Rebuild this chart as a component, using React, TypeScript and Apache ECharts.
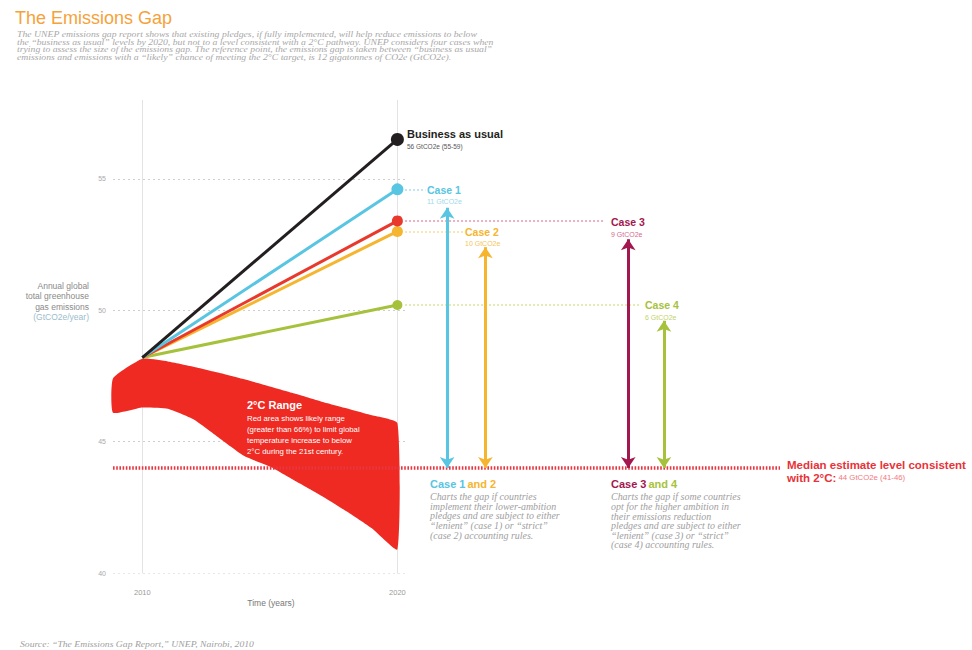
import React, { useEffect, useRef } from "react";
import * as echarts from "echarts";

// ---- data ----
const xMin = 2008.85;
const xMax = 2035;
const yMin = 40;
const yMax = 58;
const yTicks = [40, 45, 50, 55];
const xTicks = [2010, 2020];

const startYear = 2010;
const startValue = 48.2;
const endYear = 2020;
const pathwayNames = ["Case 4", "Case 2", "Case 3", "Case 1", "Business as usual"];
const pathwayValues = [50.2, 53.0, 53.4, 54.6, 56.5];
const pathwayColors = ["#a6c23c", "#f6b52e", "#e8392c", "#58c5e2", "#231f20"];
const pathwayDot = [10, 11, 11, 12, 13];

const bandYears = [2008.85, 2010, 2011, 2012, 2013, 2014, 2015, 2016, 2017, 2018, 2019, 2020];
const bandUpper = [47.4, 48.15, 48.05, 47.85, 47.62, 47.37, 47.1, 46.82, 46.53, 46.27, 46.0, 45.7];
const bandLower = [46.1, 46.3, 46.25, 45.85, 45.15, 44.45, 44.05, 43.5, 42.95, 42.35, 41.7, 40.9];

const medianLevel = 44;
const gapNames = ["Case 1", "Case 2", "Case 3", "Case 4"];
const gapYears = [2021.95, 2023.45, 2029.05, 2030.45];
const gapTops = [53.9, 52.4, 52.7, 49.6];
const gapColors = ["#58c5e2", "#f6b52e", "#a3174e", "#a6c23c"];
const gapLabels = ["11 GtCO2e", "10 GtCO2e", "9 GtCO2e", "6 GtCO2e"];

const connectorFrom = [2020.3, 2020.3, 2020.3, 2020.3];
const connectorTo = [2021.1, 2022.6, 2028.1, 2029.5];
const connectorLevels = [54.6, 53.0, 53.4, 50.2];
const connectorColors = ["#a9ddec", "#f8dc9a", "#e596ae", "#d9e49a"];

const SANS = "'Liberation Sans', Arial, 'Noto Sans', sans-serif";
const SERIF = "'Liberation Serif', 'DejaVu Serif', serif";

export default function App() {
  const ref = useRef<HTMLDivElement>(null);

  useEffect(() => {
    if (!ref.current) return;
    const chart = echarts.init(ref.current, null, { renderer: "svg" });

    const series: any[] = [];

    // grid lines (horizontal, up to 2020) and vertical year lines
    series.push({
      type: "lines",
      coordinateSystem: "cartesian2d",
      silent: true,
      z: 1,
      lineStyle: { color: "#cfcfcf", width: 1, type: [2, 3], opacity: 1 },
      data: yTicks.map((t) => ({ coords: [[xMin, t], [endYear + 0.3, t]] })),
    });
    series.push({
      type: "lines",
      coordinateSystem: "cartesian2d",
      silent: true,
      z: 1,
      lineStyle: { color: "#e3e3e3", width: 1, type: "solid", opacity: 1 },
      data: xTicks.map((t) => ({ coords: [[t, yMin - 0.4], [t, yMax]] })),
    });

    // 2°C band as a polygon through the axis scales
    series.push({
      type: "custom",
      coordinateSystem: "cartesian2d",
      silent: true,
      z: 2,
      data: bandYears.map((y, i) => [y, bandLower[i], bandUpper[i]]),
      encode: { x: 0, y: [1, 2] },
      renderItem: (params: any, api: any) => {
        if (params.dataIndex !== 0) return null;
        const pts: number[][] = [];
        for (let i = 0; i < bandYears.length; i++) pts.push(api.coord([bandYears[i], bandUpper[i]]));
        for (let i = bandYears.length - 1; i >= 0; i--) pts.push(api.coord([bandYears[i], bandLower[i]]));
        return {
          type: "polygon",
          shape: { points: pts, smooth: 0.15 },
          style: { fill: "#ee2a22" },
        };
      },
    });

    // connectors
    series.push({
      type: "lines",
      coordinateSystem: "cartesian2d",
      silent: true,
      z: 3,
      data: connectorLevels.map((v, i) => ({
        coords: [[connectorFrom[i], v], [connectorTo[i], v]],
        lineStyle: { color: connectorColors[i], width: 1.5, type: [2, 2], opacity: 1 },
      })),
    });

    // median line
    series.push({
      type: "lines",
      coordinateSystem: "cartesian2d",
      silent: true,
      z: 4,
      lineStyle: { color: "#ea3540", width: 3.5, type: [1.6, 1.6], opacity: 1 },
      data: [{ coords: [[xMin, medianLevel], [xMax, medianLevel]] }],
    });

    // gap arrows
    series.push({
      type: "lines",
      coordinateSystem: "cartesian2d",
      silent: true,
      z: 6,
      symbol: ["arrow", "arrow"],
      symbolSize: 11,
      data: gapYears.map((x, i) => ({
        name: gapNames[i],
        coords: [[x, medianLevel], [x, gapTops[i]]],
        lineStyle: { color: gapColors[i], width: 3, opacity: 1 },
      })),
    });

    // pathways
    pathwayNames.forEach((name, i) => {
      series.push({
        type: "line",
        name,
        data: [[startYear, startValue], [endYear, pathwayValues[i]]],
        symbol: "circle",
        symbolSize: (_v: any, p: any) => (p.dataIndex === 1 ? pathwayDot[i] : 0),
        itemStyle: { color: pathwayColors[i] },
        lineStyle: { color: pathwayColors[i], width: 3 },
        z: 5,
        silent: true,
      });
    });

    const t = (text: string, x: number, y: number, o: any = {}) => ({
      type: "text",
      x,
      y,
      scaleX: o.scaleX || 1,
      silent: true,
      style: {
        text,
        fill: o.fill || "#999",
        fontSize: o.fontSize || 7,
        fontWeight: o.fontWeight || "normal",
        fontStyle: o.fontStyle || "normal",
        fontFamily: o.fontFamily || SANS,
        textAlign: o.align || "left",
        textVerticalAlign: o.valign || "middle",
        lineHeight: o.lineHeight,
        rich: o.rich,
      },
      z: 20,
    });

    const subtitle = [
      "The UNEP emissions gap report shows that existing pledges, if fully implemented, will help reduce emissions to below",
      "the \u201cbusiness as usual\u201d levels by 2020, but not to a level consistent with a 2\u00b0C pathway. UNEP considers four cases when",
      "trying to assess the size of the emissions gap. The reference point, the emissions gap is taken between \u201cbusiness as usual\u201d",
      "emissions and emissions with a \u201clikely\u201d chance of meeting the 2\u00b0C target, is 12 gigatonnes of CO2e (GtCO2e).",
    ];

    const graphic: any[] = [
      t("The Emissions Gap", 15, 18, { fill: "#f6a23a", fontSize: 18 }),
      t(subtitle.join("\n"), 17, 46, {
        fontFamily: SERIF, fontStyle: "italic", fontSize: 7.8, lineHeight: 7.5, fill: "#a8a8a8", scaleX: 1.25,
      }),
      t("Annual global\ntotal greenhouse\ngas emissions", 89, 296, {
        align: "right", fontSize: 8.5, lineHeight: 10.5, fill: "#8a8a8a",
      }),
      t("(GtCO2e/year)", 89, 317, { align: "right", fontSize: 8.5, fill: "#9bbccc" }),
      t("Time (years)", 271, 603, { align: "center", fontSize: 8.5, fill: "#777" }),
      t("Source: \u201cThe Emissions Gap Report,\u201d UNEP, Nairobi, 2010", 20, 644, {
        fontFamily: SERIF, fontStyle: "italic", fontSize: 9.2, fill: "#a0a0a0", scaleX: 1.05,
      }),
      // 2°C range
      t("2\u00b0C Range", 247, 405, { fill: "#fff", fontSize: 11, fontWeight: "bold" }),
      t(
        "Red area shows likely range\n(greater than 66%) to limit global\ntemperature increase to below\n2\u00b0C during the 21st century.",
        247, 435, { fill: "#fff", fontSize: 7.8, lineHeight: 11.3 }
      ),
      // BAU
      t("Business as usual", 407, 134, { fill: "#231f20", fontSize: 11, fontWeight: "bold" }),
      t("56 GtCO2e (55-59)", 407, 146, { fill: "#555", fontSize: 6.5 }),
      // case labels
      t("Case 1", 427, 190, { fill: "#58c5e2", fontSize: 10.5, fontWeight: "bold" }),
      t(gapLabels[0], 427, 201, { fill: "#9fd8ea", fontSize: 7 }),
      t("Case 2", 465, 232, { fill: "#f6b52e", fontSize: 10.5, fontWeight: "bold" }),
      t(gapLabels[1], 465, 243, { fill: "#f3c55e", fontSize: 7 }),
      t("Case 3", 611, 222, { fill: "#a3174e", fontSize: 10.5, fontWeight: "bold" }),
      t(gapLabels[2], 611, 234, { fill: "#d66a8f", fontSize: 7 }),
      t("Case 4", 645, 305, { fill: "#a6c23c", fontSize: 10.5, fontWeight: "bold" }),
      t(gapLabels[3], 645, 317, { fill: "#bfd36a", fontSize: 7 }),
      // bottom notes
      t("{a|Case 1} {b|and 2}", 430, 484, {
        rich: {
          a: { fill: "#58c5e2", fontSize: 11, fontWeight: "bold", fontFamily: SANS },
          b: { fill: "#f6b52e", fontSize: 11, fontWeight: "bold", fontFamily: SANS },
        },
      }),
      t(
        "Charts the gap if countries\nimplement their lower-ambition\npledges and are subject to either\n\u201clenient\u201d (case 1) or \u201cstrict\u201d\n(case 2) accounting rules.",
        430, 516, { fontFamily: SERIF, fontStyle: "italic", fontSize: 9.3, lineHeight: 9.8, fill: "#a0a0a0", scaleX: 1.07 }
      ),
      t("{a|Case 3} {b|and 4}", 611, 484, {
        rich: {
          a: { fill: "#a3174e", fontSize: 11, fontWeight: "bold", fontFamily: SANS },
          b: { fill: "#a6c23c", fontSize: 11, fontWeight: "bold", fontFamily: SANS },
        },
      }),
      t(
        "Charts the gap if some countries\nopt for the higher ambition in\ntheir emissions reduction\npledges and are subject to either\n\u201clenient\u201d (case 3) or \u201cstrict\u201d\n(case 4) accounting rules.",
        611, 521, { fontFamily: SERIF, fontStyle: "italic", fontSize: 9.3, lineHeight: 9.6, fill: "#a0a0a0", scaleX: 1.07 }
      ),
      // median
      t("{a|Median estimate level consistent}\n{a|with 2\u00b0C:}{b| 44 GtCO2e (41-46)}", 787, 471, {
        lineHeight: 13,
        rich: {
          a: { fill: "#e8323a", fontSize: 11.5, fontWeight: "bold", fontFamily: SANS, lineHeight: 13 },
          b: { fill: "#f07a7f", fontSize: 7.8, fontFamily: SANS, lineHeight: 13 },
        },
      }),
    ];

    chart.setOption({
      animation: false,
      backgroundColor: "#ffffff",
      grid: { left: 113, right: 192, top: 100, bottom: 77, containLabel: false },
      xAxis: {
        type: "value",
        min: xMin,
        max: xMax,
        axisLine: { show: false },
        axisTick: { show: false },
        splitLine: { show: false },
        axisLabel: {
          customValues: xTicks,
          formatter: (v: number) => String(v),
          color: "#9a9a9a",
          fontSize: 7.5,
          fontFamily: SANS,
          margin: 15,
        },
      },
      yAxis: {
        type: "value",
        min: yMin,
        max: yMax,
        axisLine: { show: false },
        axisTick: { show: false },
        splitLine: { show: false },
        axisLabel: {
          customValues: yTicks,
          color: "#aaaaaa",
          fontSize: 7,
          fontFamily: SANS,
          margin: 7,
        },
      },
      series,
      graphic,
    });

    return () => chart.dispose();
  }, []);

  return <div ref={ref} style={{ width: 972, height: 650, position: "absolute", left: 0, top: 0 }} />;
}
